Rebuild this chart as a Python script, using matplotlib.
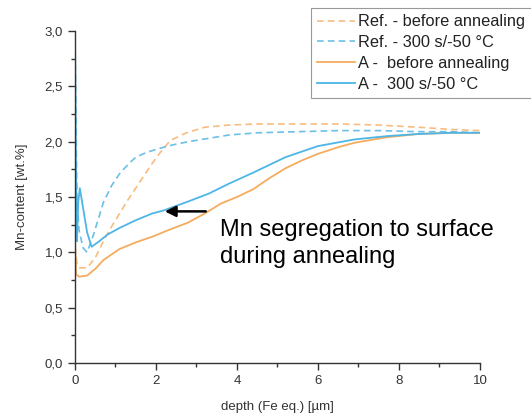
import matplotlib
matplotlib.use("Agg")
import matplotlib.pyplot as plt
from matplotlib.ticker import MultipleLocator, FuncFormatter

plt.rcParams['font.family'] = ['Liberation Sans', 'DejaVu Sans']

# Data
x_ref_before = [0, 0.05, 0.1, 0.3, 0.5, 0.7, 0.9, 1.1, 1.3, 1.5, 1.7, 1.9, 2.1, 2.35, 2.75,
                3.2, 3.8, 4.5, 5.5, 6.5, 7.5, 8.5, 9.3, 10]
y_ref_before = [1.05, 0.9, 0.86, 0.86, 0.95, 1.1, 1.23, 1.35, 1.47, 1.58, 1.69, 1.8, 1.9, 2.01, 2.08,
                2.13, 2.15, 2.16, 2.16, 2.16, 2.15, 2.13, 2.11, 2.1]

x_ref_300 = [0, 0.02, 0.05, 0.1, 0.2, 0.3, 0.45, 0.7, 0.9, 1.1, 1.3, 1.5, 1.75, 2.0, 2.4, 2.8,
             3.3, 3.8, 4.5, 5.5, 6.5, 7.5, 8.5, 9.3, 10]
y_ref_300 = [3.0, 2.3, 1.5, 1.2, 1.04, 1.0, 1.15, 1.45, 1.6, 1.71, 1.79, 1.86, 1.9, 1.93, 1.97, 2.0,
             2.03, 2.06, 2.08, 2.09, 2.1, 2.1, 2.09, 2.09, 2.08]

x_a_before = [0, 0.03, 0.1, 0.3, 0.5, 0.7, 0.9, 1.1, 1.5, 1.9, 2.3, 2.8, 3.2, 3.6, 4.0, 4.4,
              4.8, 5.2, 5.6, 6.0, 6.5, 6.9, 7.7, 8.5, 9.3, 10]
y_a_before = [1.1, 0.8, 0.78, 0.79, 0.85, 0.93, 0.98, 1.03, 1.09, 1.14, 1.2, 1.27, 1.35, 1.44, 1.5, 1.57,
              1.67, 1.76, 1.83, 1.89, 1.95, 1.99, 2.04, 2.07, 2.08, 2.08]

x_a_300 = [0, 0.02, 0.05, 0.08, 0.12, 0.2, 0.3, 0.41, 0.6, 0.8, 1.1, 1.5, 1.9, 2.2, 2.8, 3.3,
           3.8, 4.4, 5.2, 6.0, 6.9, 7.7, 8.5, 9.3, 10]
y_a_300 = [3.0, 1.9, 1.1, 1.45, 1.58, 1.4, 1.18, 1.05, 1.1, 1.16, 1.22, 1.29, 1.35, 1.38, 1.46, 1.53,
           1.62, 1.72, 1.86, 1.96, 2.02, 2.05, 2.07, 2.08, 2.08]

labels = ["Ref. - before annealing", "Ref. - 300 s/-50 °C", "A -  before annealing", "A -  300 s/-50 °C"]

orange = "#F5AC5E"
blue = "#4DB6E6"
orange_d = "#F7BC80"
blue_d = "#6BC0E8"

fig = plt.figure(figsize=(5.31, 4.16), dpi=100)
ax = fig.add_axes([0.1412, 0.1274, 0.7627, 0.7981])

l1, = ax.plot(x_ref_before, y_ref_before, color=orange_d, lw=1.2, ls=(0, (4, 2.5)))
l2, = ax.plot(x_ref_300, y_ref_300, color=blue_d, lw=1.2, ls=(0, (4, 2.5)))
l3, = ax.plot(x_a_before, y_a_before, color=orange, lw=1.3)
l4, = ax.plot(x_a_300, y_a_300, color=blue, lw=1.3)

ax.set_xlim(0, 10)
ax.set_ylim(0, 3.0)
ax.spines['top'].set_visible(False)
ax.spines['right'].set_visible(False)
for s in ('left', 'bottom'):
    ax.spines[s].set_color('#333333')
    ax.spines[s].set_linewidth(1.0)

ax.xaxis.set_major_locator(MultipleLocator(2))
ax.xaxis.set_minor_locator(MultipleLocator(1))
ax.yaxis.set_major_locator(MultipleLocator(0.5))
ax.yaxis.set_minor_locator(MultipleLocator(0.25))
ax.yaxis.set_major_formatter(FuncFormatter(lambda v, p: f"{v:.1f}".replace('.', ',')))
ax.tick_params(which='major', direction='out', length=5, width=1, color='#333333',
               labelsize=9.5, labelcolor='#333333')
ax.tick_params(which='minor', direction='out', length=3, width=1, color='#333333')

ax.set_xlabel("depth (Fe eq.) [µm]", fontsize=9.5, color='#333333', labelpad=10)
ax.set_ylabel("Mn-content [wt.%]", fontsize=9.5, color='#333333', labelpad=12)

ax.annotate("", xy=(2.15, 1.37), xytext=(3.3, 1.37),
            arrowprops=dict(arrowstyle='-|>', color='black', lw=1.8, mutation_scale=16))
ax.text(3.57, 1.08, "Mn segregation to surface\nduring annealing", fontsize=17,
        color='black', va='center', ha='left', linespacing=1.3)

leg = fig.legend([l1, l2, l3, l4], labels, loc='upper left', bbox_to_anchor=(0.585, 0.981),
                 fontsize=11.8, frameon=True, fancybox=False, framealpha=1,
                 edgecolor='#999999', handlelength=2.3, handletextpad=0.2,
                 labelspacing=0.35, borderpad=0.4, borderaxespad=0)
leg.get_frame().set_linewidth(0.8)
for t in leg.get_texts():
    t.set_color('#222222')

fig.savefig("out.png", dpi=100)
